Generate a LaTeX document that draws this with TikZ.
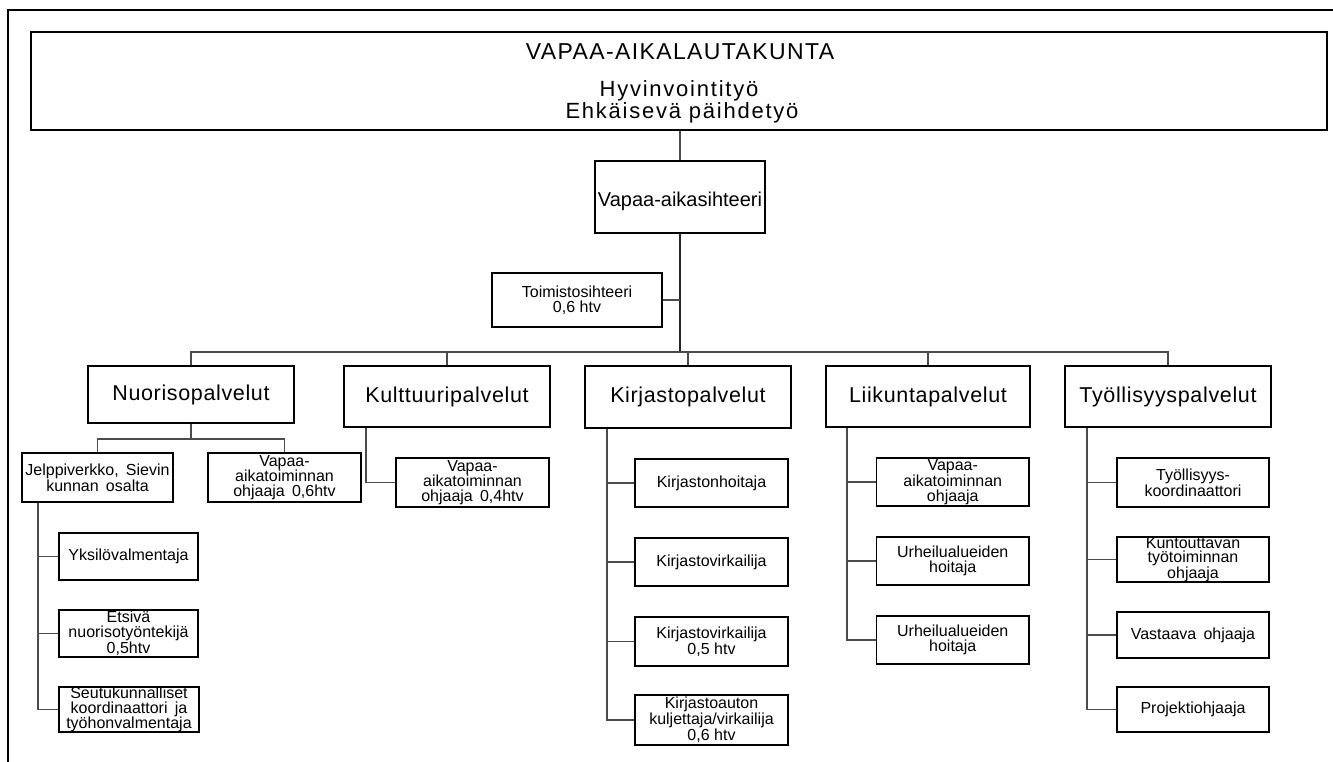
\documentclass[tikz,border=0pt]{standalone}
\usepackage{fontspec}
\setmainfont{Liberation Sans}
\newfontfamily\boardfont[LetterSpace=6]{Liberation Sans}
\newfontfamily\themefont[LetterSpace=8]{Liberation Sans}
\newfontfamily\unitfont[LetterSpace=3]{Liberation Sans}
\newcommand{\gap}{\hspace{0.45em}}

\tikzset{
  frame/.style={draw=black, line width=1.8pt},
  box/.style={draw=black, line width=1.8pt, fill=white, inner sep=0pt, align=center,
              font=\fontsize{16}{14.7}\selectfont},
  unitbox/.style={box, minimum width=206pt, minimum height=61pt,
              text height=15.5pt, text depth=4.5pt, font=\unitfont\fontsize{21.5}{25}\selectfont},
  link/.style={draw=black!70, line width=1.1pt},
  trunk/.style={draw=black!85, line width=1.9pt},
}

\begin{document}
\begin{tikzpicture}[x=1pt, y=-1pt]
\useasboundingbox (0,0) rectangle (1333,762);
\fill[white] (0,0) rectangle (1333,762);

% outer frame (runs off the right and bottom edges)
\draw[frame] (8,775) -- (8,10) -- (1345,10);

% committee
\node[box, minimum width=1296pt, minimum height=98pt] (board) at (679,81) {};
\node[anchor=base, font=\boardfont\fontsize{23}{27}\selectfont] (title) at (680,60) {VAPAA-AIKALAUTAKUNTA};
\node[anchor=base, font=\themefont\fontsize{22}{26}\selectfont] (theme1) at (679,97) {Hyvinvointityö};
\node[anchor=base, font=\themefont\fontsize{22}{26}\selectfont] (theme2) at (682,119) {Ehkäisevä päihdetyö};

% secretary level
\node[box, minimum width=170pt, minimum height=72pt, text height=24pt, text depth=4pt,
      font=\fontsize{20}{24}\selectfont] (vsih) at (680,197) {Vapaa-aikasihteeri};
\node[box, minimum width=170pt, minimum height=54pt] (toim) at (577,300) {Toimistosihteeri\\0,6 htv};

% service units
\coordinate (bus) at (0,352);
\node[unitbox, minimum height=57pt] (nuor) at (191,394.5) {Nuorisopalvelut};
\node[unitbox] (kult) at (447,396.5) {Kulttuuripalvelut};
\node[unitbox, minimum height=62pt] (kirj) at (688,397) {Kirjastopalvelut};
\node[unitbox, minimum width=204pt] (liik) at (928,396.5) {Liikuntapalvelut};
\node[unitbox] (tyol) at (1168,396.5) {Työllisyyspalvelut};

% youth services
\coordinate (nsub) at (0,439);
\coordinate (jx) at (38,0);
\node[box, minimum width=151pt, minimum height=49pt] (jelp) at (97.5,477.5) {Jelppiverkko,\gap Sievin\\kunnan\gap osalta};
\node[box, minimum width=153pt, minimum height=49pt] (vnuo) at (284.5,477.5) {Vapaa-\\aikatoiminnan\\ohjaaja\gap 0,6htv};
\node[box, minimum width=139pt, minimum height=47pt] (yksi) at (128.5,556.5) {Yksilövalmentaja};
\node[box, minimum width=139pt, minimum height=47pt] (etsi) at (128.5,633.5) {Etsivä\\nuorisotyöntekijä\\0,5htv};
\node[box, minimum width=140pt, minimum height=45pt] (seut) at (129,709.5) {Seutukunnalliset\\koordinaattori\gap ja\\työhonvalmentaja};

% culture services
\coordinate (kx) at (366,0);
\node[box, minimum width=153pt, minimum height=49pt] (vkul) at (472.5,482.5) {Vapaa-\\aikatoiminnan\\ohjaaja\gap 0,4htv};

% library services
\coordinate (lx) at (607,0);
\node[box, minimum width=153pt, minimum height=48pt] (kb1) at (711.5,483) {Kirjastonhoitaja};
\node[box, minimum width=153pt, minimum height=48pt] (kb2) at (711.5,562) {Kirjastovirkailija};
\node[box, minimum width=153pt, minimum height=49pt] (kb3) at (711.5,641.5) {Kirjastovirkailija\\0,5 htv};
\node[box, minimum width=153pt, minimum height=50pt] (kb4) at (711.5,720) {Kirjastoauton\\kuljettaja/virkailija\\0,6 htv};

% sports services
\coordinate (sx) at (847,0);
\node[box, minimum width=152.5pt, minimum height=48pt] (lb1) at (952.75,482) {Vapaa-\\aikatoiminnan\\ohjaaja};
\node[box, minimum width=152.5pt, minimum height=48pt] (lb2) at (952.75,561) {Urheilualueiden\\hoitaja};
\node[box, minimum width=152.5pt, minimum height=48pt] (lb3) at (952.75,640) {Urheilualueiden\\hoitaja};

% employment services
\coordinate (tx) at (1087,0);
\node[box, minimum width=152pt, minimum height=49pt] (tb1) at (1193,482.5) {Työllisyys-\\koordinaattori};
\node[box, minimum width=152pt, minimum height=45pt] (tb2) at (1193,559.5) {Kuntouttavan\\työtoiminnan\\ohjaaja};
\node[box, minimum width=152pt, minimum height=46pt] (tb3) at (1193,635) {Vastaava\gap ohjaaja};
\node[box, minimum width=152pt, minimum height=45pt] (tb4) at (1193,709.5) {Projektiohjaaja};

% connectors
\draw[link] (board.south -| vsih.north) -- (vsih.north);
\draw[trunk] (vsih.south) -- (vsih.south |- bus);
\draw[link] (toim.east) -- (toim.east -| vsih.south);
\draw[link] (nuor.north) -- (nuor.north |- bus) -- (tyol.north |- bus) -- (tyol.north);
\draw[link] (kult.north) -- (kult.north |- bus);
\draw[link] (kirj.north) -- (kirj.north |- bus);
\draw[link] (liik.north) -- (liik.north |- bus);

\draw[link] (nuor.south) -- (nuor.south |- nsub);
\draw[link] (jelp.north) |- (nuor.south |- nsub) -| (vnuo.north);
\draw[link] (jelp.south -| jx) |- (seut.west);
\draw[link] (yksi.west) -- (yksi.west -| jx);
\draw[link] (etsi.west) -- (etsi.west -| jx);

\draw[link] (kult.south -| kx) |- (vkul.west);

\draw[link] (kirj.south -| lx) |- (kb4.west);
\draw[link] (kb1.west) -- (kb1.west -| lx);
\draw[link] (kb2.west) -- (kb2.west -| lx);
\draw[link] (kb3.west) -- (kb3.west -| lx);

\draw[link] (liik.south -| sx) |- (lb3.west);
\draw[link] (lb1.west) -- (lb1.west -| sx);
\draw[link] (lb2.west) -- (lb2.west -| sx);

\draw[link] (tyol.south -| tx) |- (tb4.west);
\draw[link] (tb1.west) -- (tb1.west -| tx);
\draw[link] (tb2.west) -- (tb2.west -| tx);
\draw[link] (tb3.west) -- (tb3.west -| tx);
\end{tikzpicture}
\end{document}
